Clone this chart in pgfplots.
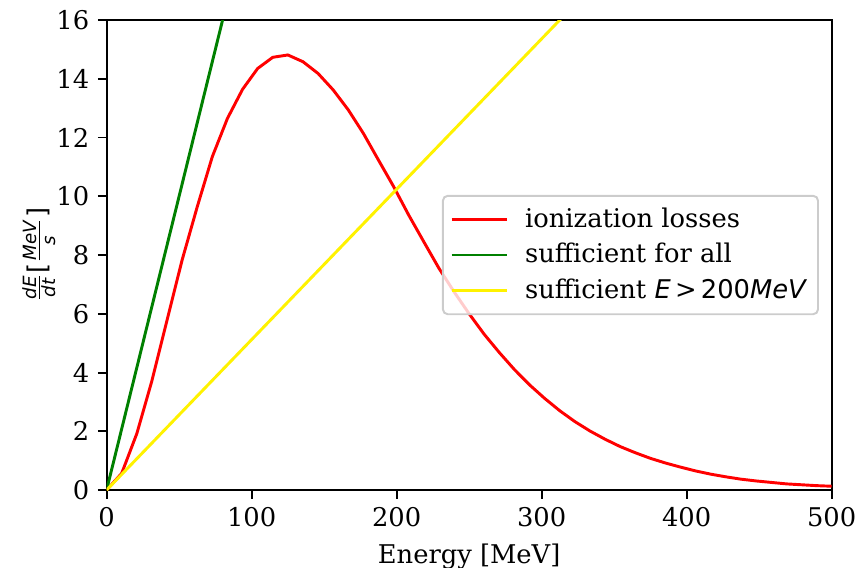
\documentclass[border=0pt]{standalone}
\usepackage{fontspec}
\setmainfont{DejaVu Serif}
\newfontfamily\dvsans{DejaVu Sans}
\usepackage{pgfplots}
\pgfplotsset{compat=1.18}
\newcommand{\mi}[1]{\hbox{\dvsans\itshape\fontsize{7.5}{8}\selectfont #1}}
\newcommand{\br}[1]{\hbox{\dvsans\fontsize{10.6}{10.6}\selectfont #1}}
\definecolor{mplgreen}{rgb}{0,0.5,0}
\begin{document}
\begin{tikzpicture}
\useasboundingbox (-43.7bp,-31.6bp) rectangle (308.45bp,200.9bp);
\begin{axis}[
  scale only axis, width=297.25bp, height=192.7bp,
  xmin=0, xmax=500, ymin=0, ymax=16,
  xtick={0,100,200,300,400,500}, ytick={0,2,4,6,8,10,12,14,16},
  tick align=outside, xtick pos=bottom, ytick pos=left,
  major tick length=3.6bp,
  every tick/.style={black, line width=0.8bp},
  axis line style={line width=0.8bp},
  /pgf/number format/assume math mode=true,
  ticklabel style={font=\fontsize{10.6}{12}\selectfont},
  xlabel={Energy [MeV]},
  ylabel={$\frac{\mi{dE}}{\mi{dt}}\br{[}\frac{\mi{MeV}}{\mi{s}}\br{]}$},
  label style={font=\fontsize{10.6}{12}\selectfont},
  ylabel style={at={(axis description cs:-0.093,0.5)}, anchor=center},
  legend cell align=left,
  legend style={at={(1,0.5)}, anchor=east, xshift=-5.2bp, draw=black!20, line width=0.8bp,
    rounded corners=2bp, fill=white, fill opacity=0.8, text opacity=1, draw opacity=1,
    font=\fontsize{10.6}{12}\selectfont, inner xsep=3bp, inner ysep=3bp, row sep=1bp,
    nodes={inner sep=2bp},
    /tikz/every odd column/.append style={column sep=5bp}},
  legend image code/.code={\draw[#1, line width=1.2bp] (0bp,0bp) -- (22.5bp,0bp);},
]
\addplot[red, line width=1.2bp] coordinates {
(0,0)(10.42,0.57)(20.83,1.92)(31.25,3.72)(41.67,5.78)(52.08,7.83)(62.50,9.64)
(72.92,11.35)(83.33,12.65)(93.75,13.64)(104.17,14.35)(114.58,14.73)(125.00,14.81)
(135.42,14.58)(145.83,14.18)(156.25,13.62)(166.67,12.94)(177.08,12.14)(187.50,11.23)
(197.92,10.33)(208.33,9.36)(218.75,8.45)(229.17,7.55)(239.58,6.75)(250.00,6.00)
(260.42,5.30)(270.83,4.68)(281.25,4.10)(291.67,3.58)(302.08,3.12)(312.50,2.70)
(322.92,2.33)(333.33,2.01)(343.75,1.73)(354.17,1.48)(364.58,1.27)(375.00,1.08)
(385.42,0.92)(395.83,0.78)(406.25,0.65)(416.67,0.54)(427.08,0.45)(437.50,0.37)
(447.92,0.31)(458.33,0.26)(468.75,0.21)(479.17,0.18)(489.58,0.15)(500.00,0.13)
};
\addlegendentry{ionization losses}
\addplot[mplgreen, line width=1.2bp] coordinates {(0,0)(500,100)};
\addlegendentry{sufficient for all}
\addplot[yellow, line width=1.2bp] coordinates {(0,0)(500,25.6)};
\addlegendentry{sufficient {\dvsans\itshape E}\,>\,{\dvsans 200}{\dvsans\itshape MeV}}
\end{axis}
\end{tikzpicture}
\end{document}
